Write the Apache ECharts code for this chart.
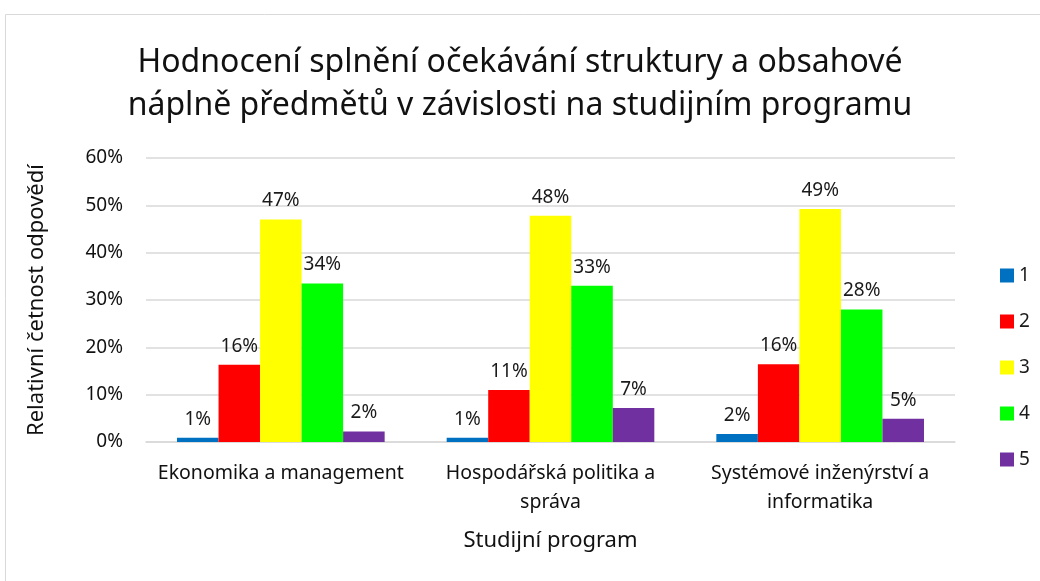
<!DOCTYPE html>
<html>
<head>
<meta charset="utf-8">
<script src="https://cdn.jsdelivr.net/npm/echarts@6/dist/echarts.min.js"></script>
<style>
  html, body { margin: 0; padding: 0; background: #fff; }
  #main { width: 1040px; height: 581px; }
</style>
</head>
<body>
<div id="main"></div>
<script>
// categories and tick labels
var categories = ['Ekonomika a management', 'Hospodářská politika a správa', 'Systémové inženýrství a informatika']
var categoryLabels = ['Ekonomika a management', 'Hospodářská politika a\nspráva', 'Systémové inženýrství a\ninformatika']
var seriesNames = ['1', '2', '3', '4', '5']

// relative frequencies (%) per answer, per study programme
var answer1 = [0.9, 0.9, 1.7]
var answer2 = [16.3, 11.0, 16.4]
var answer3 = [47.0, 47.8, 49.2]
var answer4 = [33.5, 33.0, 28.0]
var answer5 = [2.2, 7.2, 4.9]

var colors = ['#0070C0', '#FF0000', '#FFFF00', '#00FF00', '#7030A0']
var font = 'Noto Sans'

var chart = echarts.init(document.getElementById('main'))

var allData = [answer1, answer2, answer3, answer4, answer5]
var series = allData.map(function (d, i) {
  return {
    name: seriesNames[i],
    type: 'bar',
    barGap: '0%',
    barCategoryGap: '23%',
    itemStyle: { color: colors[i] },
    label: {
      show: true,
      position: 'top',
      distance: 9,
      fontFamily: font,
      fontSize: 19,
      color: '#1a1a1a',
      formatter: function (p) { return Math.round(p.value) + '%' }
    },
    data: d
  }
})

var option = {
  color: colors,
  textStyle: { fontFamily: font },
  title: {
    text: 'Hodnocení splnění očekávání struktury a obsahové\nnáplně předmětů v závislosti na studijním programu',
    left: 'center',
    top: 36,
    textStyle: {
      fontFamily: font,
      fontSize: 32,
      fontWeight: 'normal',
      color: '#111',
      lineHeight: 43
    }
  },
  legend: {
    orient: 'vertical',
    left: 995,
    top: 261,
    itemWidth: 14,
    itemHeight: 14,
    itemGap: 27,
    icon: 'rect',
    textStyle: { fontFamily: font, fontSize: 19, color: '#1a1a1a' },
    data: seriesNames
  },
  grid: {
    left: 146,
    right: 85,
    top: 158,
    bottom: 139
  },
  xAxis: {
    type: 'category',
    data: categories,
    name: 'Studijní program',
    nameLocation: 'middle',
    nameGap: 88,
    nameTextStyle: { fontFamily: font, fontSize: 22, color: '#111' },
    axisTick: { show: false },
    axisLine: { lineStyle: { color: '#d9d9d9', width: 1.5 } },
    axisLabel: {
      interval: 0,
      margin: 17,
      lineHeight: 29,
      fontFamily: font,
      fontSize: 19.5,
      color: '#111',
      formatter: function (v, i) { return categoryLabels[i] }
    }
  },
  yAxis: {
    type: 'value',
    min: 0,
    max: 60,
    interval: 10,
    name: 'Relativní četnost odpovědí',
    nameLocation: 'middle',
    nameGap: 98,
    nameTextStyle: { fontFamily: font, fontSize: 22, color: '#111' },
    axisLabel: {
      margin: 23,
      fontFamily: font,
      fontSize: 19,
      color: '#111',
      formatter: '{value}%'
    },
    splitLine: { lineStyle: { color: '#d9d9d9', width: 1.5 } }
  },
  graphic: [{
    type: 'rect',
    shape: { x: 5.5, y: 14.5, width: 1100, height: 700 },
    style: { fill: 'none', stroke: '#d9d9d9', lineWidth: 1 },
    silent: true
  }],
  series: series
}

option && chart.setOption(option)
</script>
</body>
</html>
